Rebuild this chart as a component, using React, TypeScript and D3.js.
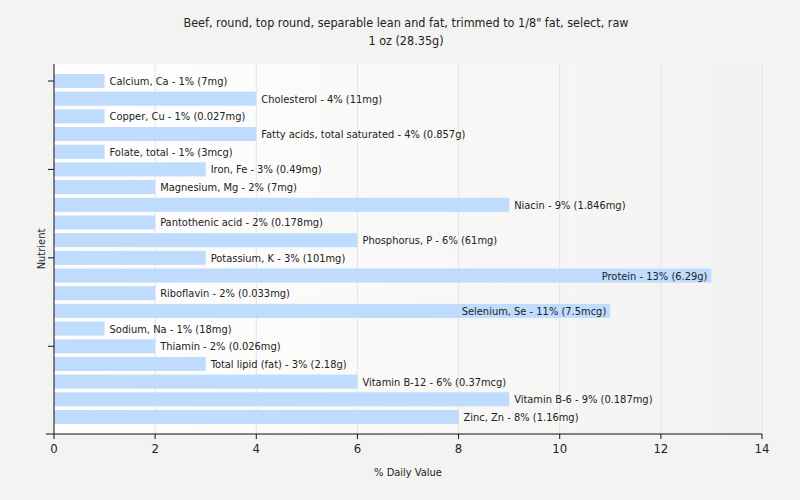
import React, { useEffect, useRef } from 'react';
import * as d3 from 'd3';

const nutrients = [
  'Calcium, Ca', 'Cholesterol', 'Copper, Cu', 'Fatty acids, total saturated', 'Folate, total',
  'Iron, Fe', 'Magnesium, Mg', 'Niacin', 'Pantothenic acid', 'Phosphorus, P',
  'Potassium, K', 'Protein', 'Riboflavin', 'Selenium, Se', 'Sodium, Na',
  'Thiamin', 'Total lipid (fat)', 'Vitamin B-12', 'Vitamin B-6', 'Zinc, Zn',
];
const dailyValues = [1, 4, 1, 4, 1, 3, 2, 9, 2, 6, 3, 13, 2, 11, 1, 2, 3, 6, 9, 8];
const amounts = [
  '7mg', '11mg', '0.027mg', '0.857g', '3mcg', '0.49mg', '7mg', '1.846mg', '0.178mg', '61mg',
  '101mg', '6.29g', '0.033mg', '7.5mcg', '18mg', '0.026mg', '2.18g', '0.37mcg', '0.187mg', '1.16mg',
];
const xTicks = [0, 2, 4, 6, 8, 10, 12, 14];

const FONT = "'DejaVu Sans Condensed', 'DejaVu Sans', sans-serif";

export default function App() {
  const svgRef = useRef<SVGSVGElement>(null);

  useEffect(() => {
    const width = 800;
    const height = 500;
    const plot = { left: 54, right: 762, top: 64, bottom: 434 };

    const svg = d3.select(svgRef.current);
    svg.selectAll('*').remove();

    svg.append('rect').attr('width', width).attr('height', height).attr('fill', '#f3f3f2');

    const defs = svg.append('defs');
    const grad = defs.append('linearGradient').attr('id', 'bg').attr('x1', 0).attr('x2', 1).attr('y1', 0).attr('y2', 0);
    grad.append('stop').attr('offset', '0%').attr('stop-color', '#ffffff');
    grad.append('stop').attr('offset', '100%').attr('stop-color', '#f2f2f0');

    svg.append('rect')
      .attr('x', plot.left).attr('y', plot.top)
      .attr('width', plot.right - plot.left).attr('height', plot.bottom - plot.top)
      .attr('fill', 'url(#bg)');

    // title
    const title = svg.append('text')
      .attr('x', 400).attr('text-anchor', 'middle')
      .style('font-family', FONT).style('font-size', '12.5px').attr('fill', '#222');
    title.append('tspan').attr('x', 406).attr('y', 27).text('Beef, round, top round, separable lean and fat, trimmed to 1/8" fat, select, raw');
    title.append('tspan').attr('x', 406).attr('y', 45).text('1 oz (28.35g)');

    const x = d3.scaleLinear().domain([0, 14]).range([plot.left, plot.right]);
    const y = d3.scalePoint<number>().domain(d3.range(nutrients.length)).range([81, 417]);
    const barH = 14;

    // gridlines
    svg.append('g').selectAll('line')
      .data(xTicks.slice(1))
      .enter().append('line')
      .attr('x1', d => x(d)).attr('x2', d => x(d))
      .attr('y1', plot.top).attr('y2', plot.bottom)
      .attr('stroke', '#e4e4e4').attr('stroke-width', 1);

    // bars
    const rows = svg.append('g').selectAll('g')
      .data(nutrients.map((n, i) => ({ n, i, v: dailyValues[i], a: amounts[i] })))
      .enter().append('g');

    rows.append('rect')
      .attr('x', x(0))
      .attr('y', d => (y(d.i) as number) - barH / 2)
      .attr('width', d => x(d.v) - x(0))
      .attr('height', barH)
      .attr('fill', '#bfdbfd');

    // long bars get their label inside, right aligned
    rows.append('text')
      .attr('x', d => (d.v > 10 ? x(d.v) - 4 : x(d.v) + 5))
      .attr('y', d => (y(d.i) as number) + 4)
      .attr('text-anchor', d => (d.v > 10 ? 'end' : 'start'))
      .style('font-family', FONT).style('font-size', '11px').attr('fill', '#222')
      .text(d => `${d.n} - ${d.v}% (${d.a})`);

    // axes
    const axisColor = '#111';
    svg.append('line')
      .attr('x1', plot.left).attr('x2', plot.left)
      .attr('y1', plot.top).attr('y2', plot.bottom)
      .attr('stroke', axisColor);
    svg.append('line')
      .attr('x1', plot.left - 8).attr('x2', plot.right)
      .attr('y1', plot.bottom).attr('y2', plot.bottom)
      .attr('stroke', axisColor);

    svg.append('g').selectAll('line')
      .data([0, 5, 10, 15])
      .enter().append('line')
      .attr('x1', plot.left - 6).attr('x2', plot.left)
      .attr('y1', d => y(d) as number).attr('y2', d => y(d) as number)
      .attr('stroke', axisColor);

    const xt = svg.append('g').selectAll('g').data(xTicks).enter().append('g');
    xt.append('line')
      .attr('x1', d => x(d)).attr('x2', d => x(d))
      .attr('y1', plot.bottom).attr('y2', plot.bottom + 5)
      .attr('stroke', axisColor);
    xt.append('text')
      .attr('x', d => x(d)).attr('y', plot.bottom + 19)
      .attr('text-anchor', 'middle')
      .style('font-family', FONT).style('font-size', '13px').attr('fill', '#222')
      .text(d => d);

    svg.append('text')
      .attr('x', 408).attr('y', 476).attr('text-anchor', 'middle')
      .style('font-family', FONT).style('font-size', '11px').attr('fill', '#222')
      .text('% Daily Value');

    svg.append('text')
      .attr('transform', `translate(45, ${(plot.top + plot.bottom) / 2}) rotate(-90)`)
      .attr('text-anchor', 'middle')
      .style('font-family', FONT).style('font-size', '11px').attr('fill', '#222')
      .text('Nutrient');
  }, []);

  return (
    <svg ref={svgRef} width={800} height={500} style={{ display: 'block', position: 'absolute', left: 0, top: 0 }} />
  );
}
